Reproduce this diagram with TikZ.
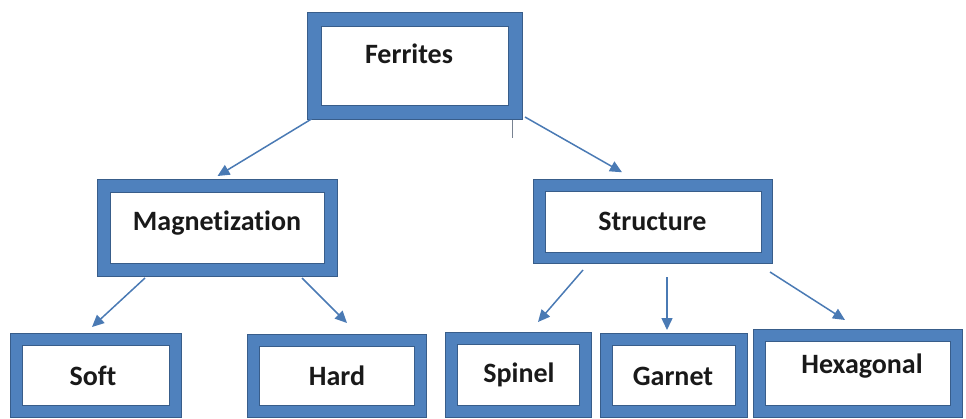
\documentclass[tikz,border=0pt]{standalone}
\usepackage{fontspec}
\setmainfont{Carlito}[Ligatures={NoCommon}]
\usetikzlibrary{arrows.meta}
\definecolor{frameblue}{RGB}{79,129,189}
\definecolor{framedark}{RGB}{56,93,138}
\definecolor{arrowblue}{RGB}{74,122,180}
\definecolor{tickgrey}{RGB}{120,130,145}
\begin{document}
\begin{tikzpicture}[x=1pt,y=-1pt,
  frame/.style={rectangle, draw=framedark, line width=1pt, double=frameblue,
    double distance=#1, fill=white, inner sep=0pt, outer sep=0pt},
  frame/.default=11pt,
  boxtext/.style={anchor=base, inner sep=0pt, text=black!90,
    font=\fontsize{28}{32}\selectfont\bfseries},
  link/.style={draw=arrowblue, line width=1.5pt,
    -{Triangle[length=12pt,width=11pt]}},
]
\useasboundingbox (0,0) rectangle (966,418);

% framed boxes
\node[frame=13pt, minimum width=201pt, minimum height=93pt] (ferr) at (415,66) {};
\node[frame=12pt, minimum width=227pt, minimum height=84pt] (mag) at (217.5,228) {};
\node[frame=10.5pt, minimum width=227.5pt, minimum height=72.5pt] (str) at (653,221.5) {};
\node[frame, minimum width=159pt, minimum height=72pt] (soft) at (96,375.5) {};
\node[frame, minimum width=167pt, minimum height=71pt] (hard) at (337,376) {};
\node[frame, minimum width=134pt, minimum height=73pt] (spin) at (518.5,375) {};
\node[frame, minimum width=135pt, minimum height=72pt] (gar) at (674,375.5) {};
\node[frame, minimum width=197pt, minimum height=76pt] (hex) at (857.5,373) {};

% box captions
\node[boxtext] (tferr) at (409,63) {Ferrites};
\node[boxtext] (tmag) at (217,230) {Magnetization};
\node[boxtext] (tstr) at (652.5,230) {Structure};
\node[boxtext] (tsoft) at (93,385) {Soft};
\node[boxtext] (thard) at (337,385) {Hard};
\node[boxtext] (tspin) at (519,382) {Spinel};
\node[boxtext] (tgar) at (673,385) {Garnet};
\node[boxtext] (thex) at (862,373) {Hexagonal};

% short stub under the top box
\coordinate (tickend) at ([xshift=97pt,yshift=-25.5pt]ferr.south);
\draw[tickgrey, line width=0.8pt] ([xshift=97pt,yshift=-7.5pt]ferr.south) -- (tickend);

% connectors
\draw[link] ([xshift=-3pt,yshift=-6.5pt]ferr.south west) -- ([yshift=10pt]mag.north);
\draw[link] ([xshift=9.5pt,yshift=-4.5pt]ferr.south east) -- ([xshift=-31pt,yshift=13pt]str.north);
\draw[link] ([xshift=-72.5pt,yshift=-8pt]mag.south) -- ([xshift=-4pt,yshift=12.5pt]soft.north);
\draw[link] ([xshift=84.5pt,yshift=-8pt]mag.south) -- ([xshift=10pt,yshift=17.5pt]hard.north);
\draw[link] ([xshift=-70pt,yshift=-12.25pt]str.south) -- ([xshift=19.5pt,yshift=16.5pt]spin.north);
\draw[link] ([xshift=14pt,yshift=-19.25pt]str.south) -- ([xshift=-7pt,yshift=9.5pt]gar.north);
\draw[link] ([xshift=117pt,yshift=-14.25pt]str.south) -- ([xshift=-12.5pt,yshift=15pt]hex.north);
\end{tikzpicture}
\end{document}
